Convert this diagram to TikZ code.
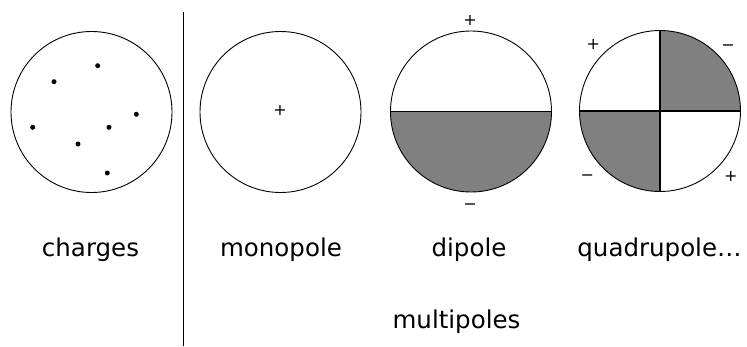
\documentclass[tikz,border=0pt]{standalone}
\usepackage{fontspec}
\setmainfont{DejaVu Sans}
\begin{document}
\begin{tikzpicture}[x=1pt,y=-1pt,
  ring/.style={draw=black,line width=0.9pt},
  shade/.style={fill=black!50},
  divider/.style={draw=black,line width=1.4pt},
  dot/.style={circle,fill=black,inner sep=0pt,minimum size=5pt},
  lbl/.style={anchor=base,font=\fontsize{24.5}{28}\selectfont,inner sep=0pt},
  sign/.style={font=\fontsize{16}{18}\selectfont,inner sep=0pt,anchor=base}]
\useasboundingbox (0,0) rectangle (747,346);
% separator
\coordinate (septop) at (183.5,12);
\coordinate (sepbot) at (183.5,346);
\draw[line width=1.1pt] (septop) -- (sepbot);
% charges
\coordinate (c1) at (91.5,112);
\draw[ring] (c1) circle (80.5);
\node[dot] (d1) at (97.7,65.7) {};
\node[dot] (d2) at (54,81.7) {};
\node[dot] (d3) at (136.3,114.3) {};
\node[dot] (d4) at (32.7,127.3) {};
\node[dot] (d5) at (109,127.3) {};
\node[dot] (d6) at (78,144) {};
\node[dot] (d7) at (107.3,173) {};
% monopole
\coordinate (c2) at (280.5,112);
\draw[ring] (c2) circle (80.5);
\node[sign] (mp) at (280,115.5) {+};
% dipole
\coordinate (c3) at (471,111.5);
\fill[shade] (390.5,111.5) arc[start angle=180,end angle=0,radius=80.5] -- cycle;
\draw[ring] (c3) circle (80.5);
\draw[divider] (390.5,111.5) -- (551.5,111.5);
\node[sign] (dp) at (470,25) {+};
\node[sign] (dm) at (470,209.5) {−};
% quadrupole
\coordinate (c4) at (660,111);
\fill[shade] (c4) -- (740.5,111) arc[start angle=0,end angle=-90,radius=80.5] -- cycle;
\fill[shade] (c4) -- (579.5,111) arc[start angle=180,end angle=90,radius=80.5] -- cycle;
\draw[ring] (c4) circle (80.5);
\draw[divider] (579.5,111) -- (740.5,111);
\draw[divider] (660,30.5) -- (660,191.5);
\node[sign] (q1) at (593.3,49) {+};
\node[sign] (q2) at (728,50.5) {−};
\node[sign] (q3) at (587.3,180.5) {−};
\node[sign] (q4) at (730.7,181) {+};
% labels
\node[lbl] (lc) at (90.5,256.7) {charges};
\node[lbl] (lm) at (281,256.7) {monopole};
\node[lbl] (ld) at (469,256.7) {dipole};
\node[lbl] (lq) at (659.5,256.7) {quadrupole…};
\node[lbl] (lmp) at (456.5,328.3) {multipoles};
\end{tikzpicture}
\end{document}
